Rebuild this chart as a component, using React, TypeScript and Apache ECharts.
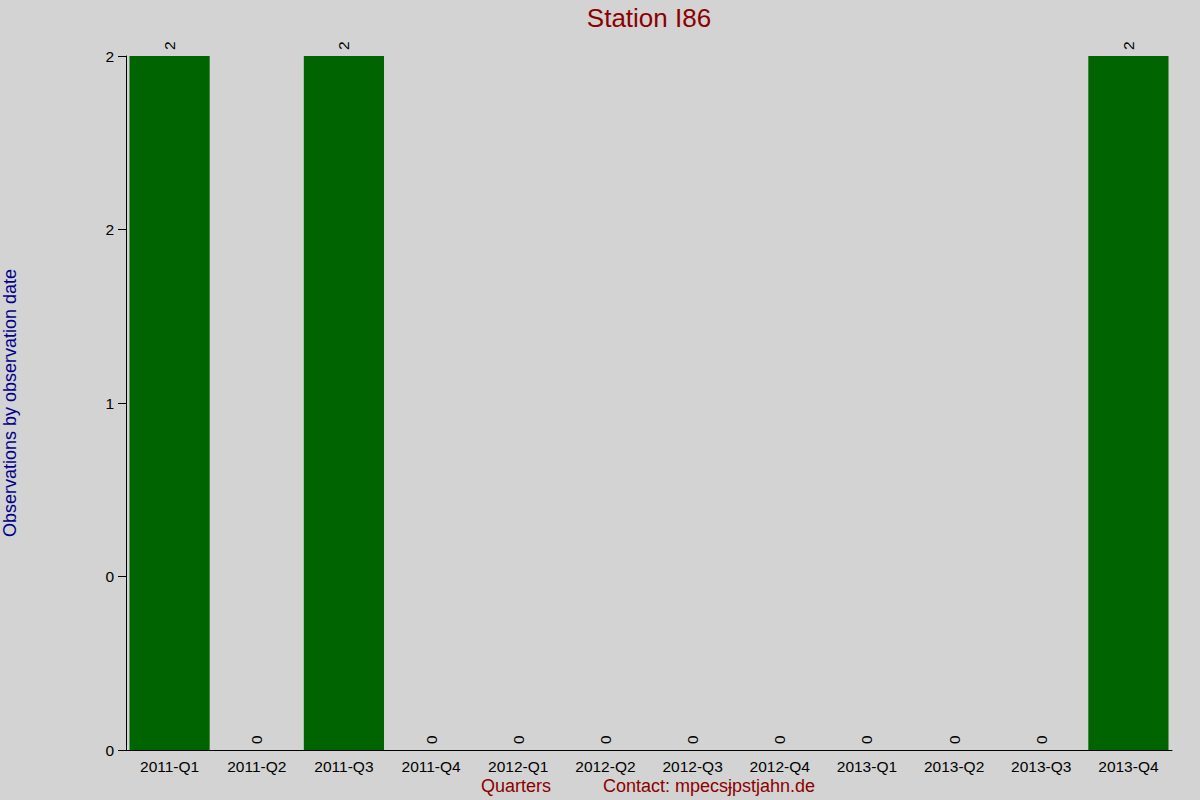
import React, { useEffect, useRef } from 'react';
import * as echarts from 'echarts';

const quarters = [
  '2011-Q1', '2011-Q2', '2011-Q3', '2011-Q4',
  '2012-Q1', '2012-Q2', '2012-Q3', '2012-Q4',
  '2013-Q1', '2013-Q2', '2013-Q3', '2013-Q4',
];
const observations = [2, 0, 2, 0, 0, 0, 0, 0, 0, 0, 0, 2];
// labels as printed on the original axis (rounded)
const yTickLabels = ['0', '0', '1', '2', '2'];
const yStep = 0.5;

const FONT = '"Liberation Sans", Arial, sans-serif';

export default function App() {
  const chartRef = useRef<HTMLDivElement>(null);

  useEffect(() => {
    if (!chartRef.current) return;
    const chart = echarts.init(chartRef.current, null, { renderer: 'svg' });

    const option = {
      animation: false,
      backgroundColor: '#d3d3d3',
      textStyle: { fontFamily: FONT },
      grid: { left: 126, right: 28, top: 56, bottom: 50, outerBoundsMode: 'none', containLabel: false },
      xAxis: {
        type: 'category',
        data: quarters,
        axisLine: { lineStyle: { color: '#000', width: 1 } },
        axisTick: { show: false },
        axisLabel: { color: '#000', fontSize: 15.5, margin: 8, interval: 0, fontFamily: FONT },
      },
      yAxis: {
        type: 'value',
        min: 0,
        max: 2,
        interval: yStep,
        name: 'Observations by observation date',
        nameLocation: 'middle',
        nameGap: 107,
        nameTextStyle: { color: '#00008b', fontSize: 18, fontFamily: FONT },
        axisLine: { show: true, lineStyle: { color: '#000', width: 1 } },
        axisTick: { show: true, length: 8, lineStyle: { color: '#000' } },
        splitLine: { show: false },
        axisLabel: {
          color: '#000',
          fontSize: 15.5,
          margin: 12,
          fontFamily: FONT,
          formatter: (v: number) => yTickLabels[Math.round(v / yStep)] ?? '',
        },
      },
      series: [
        {
          type: 'bar',
          data: observations,
          barCategoryGap: '8%',
          itemStyle: { color: '#006400' },
          label: {
            show: true,
            position: 'top',
            rotate: 90,
            align: 'left',
            verticalAlign: 'middle',
            distance: 6,
            color: '#000',
            fontSize: 15.5,
            fontFamily: FONT,
          },
        },
      ],
      graphic: [
        {
          type: 'text',
          x: 649,
          y: 5,
          style: {
            text: 'Station I86',
            fill: '#8b0000',
            fontSize: 26,
            fontFamily: FONT,
            textAlign: 'center',
          },
        },
        {
          type: 'text',
          left: 481,
          top: 777,
          style: { text: 'Quarters', fill: '#8b0000', fontSize: 18, fontFamily: FONT },
        },
        {
          type: 'text',
          left: 603,
          top: 777,
          style: { text: 'Contact: mpecsɉpstjahn.de', fill: '#8b0000', fontSize: 18, fontFamily: FONT },
        },
      ],
    };

    chart.setOption(option);
    return () => chart.dispose();
  }, []);

  return (
    <div
      ref={chartRef}
      style={{ position: 'fixed', left: 0, top: 0, width: 1200, height: 800 }}
    />
  );
}
